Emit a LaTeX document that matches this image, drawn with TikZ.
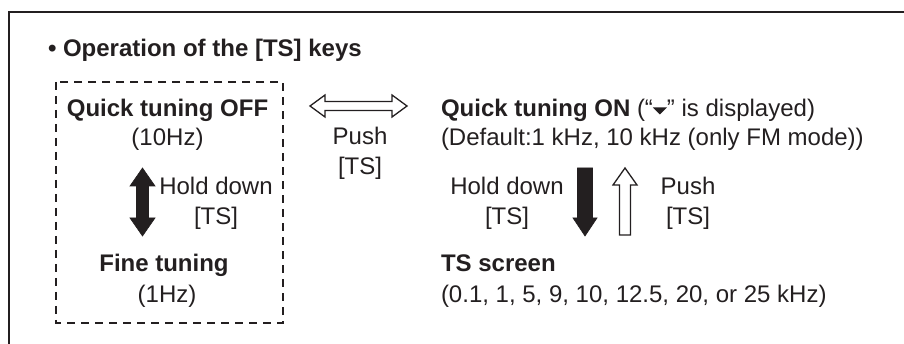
\documentclass[tikz,border=0pt]{standalone}
\usepackage{fontspec}
\setmainfont{Liberation Sans}
\definecolor{ink}{HTML}{231F20}
\begin{document}
\begin{tikzpicture}[x=1pt,y=-1pt,
  txt/.style={inner sep=0pt,outer sep=0pt,text=ink,font=\fontsize{24}{28.8}\selectfont,anchor=base},
  ltxt/.style={txt,anchor=base west},
  bld/.style={font=\fontsize{24}{28.8}\selectfont\bfseries},
  solidarrow/.style={fill=ink,draw=ink,line width=0.6pt,line join=miter},
  hollowarrow/.style={fill=white,draw=ink,line width=1.3pt,line join=miter}]
\useasboundingbox (0,0) rectangle (904,344);
% frame
\draw[ink,line width=1.6pt] (904,12) -- (9,12) -- (9,344);
% title
\node[ltxt,bld] (title) at (48,57) {• Operation of the [TS] keys};
% dashed box
\draw[ink,line width=1.3pt,dash pattern=on 8pt off 6pt] (56,82) rectangle (283,323);
% left texts
\node[txt,bld] (qoff) at (167.5,117) {Quick tuning OFF};
\node[txt] (qoffhz) at (167.5,146) {(10Hz)};
\node[txt] (hold1) at (216,195) {Hold down};
\node[txt] (hold1ts) at (216,225) {[TS]};
\node[txt,bld] (fine) at (164,272) {Fine tuning};
\node[txt] (finehz) at (167,303) {(1Hz)};
% push middle
\node[txt] (push1) at (360,145) {Push};
\node[txt] (push1ts) at (360,175) {[TS]};
% right texts
\node[ltxt] (qon) at (441,117) {\textbf{Quick tuning ON} (“\tikz[baseline=0pt,x=1pt,y=1pt]\fill[ink] (0,9.5) -- (14,9.5) -- (7,2.5) -- cycle;” is displayed)};
\node[ltxt] (qondef) at (441,146) {(Default:1 kHz, 10 kHz (only FM mode))};
\node[txt] (hold2) at (507,195) {Hold down};
\node[txt] (hold2ts) at (507,225) {[TS]};
\node[txt] (push2) at (688,195) {Push};
\node[txt] (push2ts) at (688,225) {[TS]};
\node[ltxt,bld] (ts) at (441,272) {TS screen};
\node[ltxt] (tsvals) at (441,303) {(0.1, 1, 5, 9, 10, 12.5, 20, or 25 kHz)};
% hollow double arrow (OFF <-> ON)
\draw[hollowarrow] (310,106) -- (325,95) -- (325,101.5) -- (392,101.5) -- (392,95) -- (407,106)
  -- (392,117) -- (392,110.5) -- (325,110.5) -- (325,117) -- cycle;
% black double arrow (OFF <-> Fine)
\draw[solidarrow] (142.5,168) -- (155,186) -- (148.5,186) -- (148.5,218) -- (155,218) -- (142.5,236)
  -- (130,218) -- (136.5,218) -- (136.5,186) -- (130,186) -- cycle;
% black down arrow (ON -> TS screen)
\draw[solidarrow] (577.5,168) -- (592.5,168) -- (592.5,218) -- (597,218) -- (585,236) -- (573,218)
  -- (577.5,218) -- cycle;
% hollow up arrow (TS screen -> ON)
\draw[hollowarrow] (625,168) -- (637,185) -- (630.5,185) -- (630.5,235) -- (619.5,235) -- (619.5,185)
  -- (613,185) -- cycle;
\end{tikzpicture}
\end{document}
